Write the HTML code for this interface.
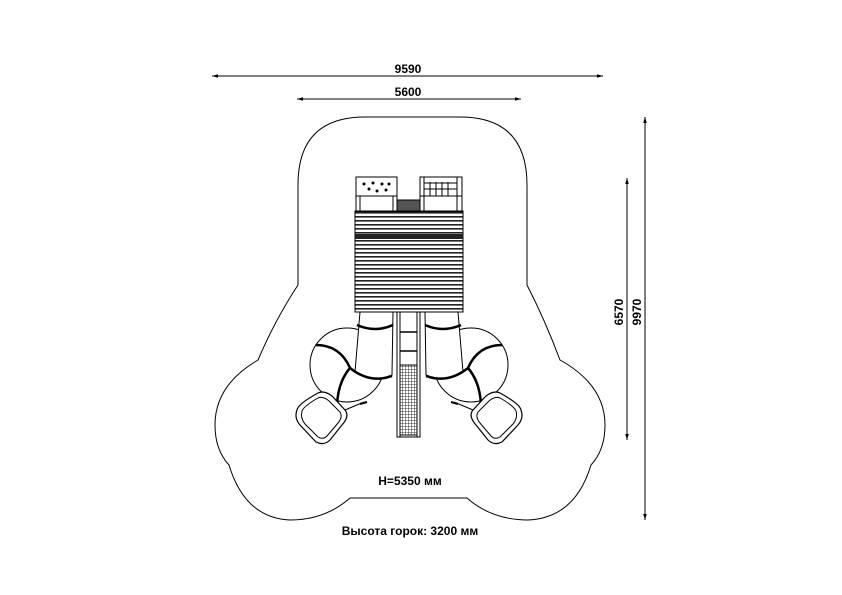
<!DOCTYPE html>
<html><head><meta charset="utf-8"><style>
html,body{margin:0;padding:0;background:#fff;width:842px;height:595px;overflow:hidden}
svg{display:block}
text{font-family:"Liberation Sans",sans-serif;font-size:12px;font-weight:bold;fill:#000}
</style></head><body>
<svg width="842" height="595" viewBox="0 0 842 595" xmlns="http://www.w3.org/2000/svg">
<defs>
<marker id="a" viewBox="0 0 10 10" refX="10" refY="5" markerWidth="8" markerHeight="6" orient="auto-start-reverse"><path d="M0,2 L10,5 L0,8 z" fill="#000"/></marker>
<pattern id="stripes" width="4" height="4" patternUnits="userSpaceOnUse"><rect width="4" height="1.6" fill="#222"/></pattern>
<pattern id="grid" width="3" height="3" patternUnits="userSpaceOnUse"><rect width="3" height="3" fill="#fff"/><path d="M0,0H3M0,0V3" stroke="#000" stroke-width="0.8"/></pattern>
<g id="slide" fill="#fff" stroke="#000" stroke-width="1">
 <circle cx="347" cy="365" r="37"/>
 <path d="M360,312 L393,312 L392,375 Q372,383 355,372 Z"/>
 <path d="M357,325 Q375,333 393,325" stroke-width="2.5" fill="none"/>
 <path d="M316,345 Q340,345 350,368" stroke-width="2.5" fill="none"/>
 <path d="M350,368 Q370,384 392,376" stroke-width="2.5" fill="none"/>
 <path d="M350,368 Q338,382 337,405" stroke-width="2.5" fill="none"/>
 <path d="M297,410 Q298,404 318,393 Q324,390 332,396 L345,410 Q350,416 342,425 L330,440 Q324,446 316,442 L300,425 Q294,418 297,410 Z" stroke-width="1.2"/>
 <path d="M302,411 Q304,406 318,398 Q323,396 329,401 L340,412 Q343,417 338,423 L327,436 Q323,440 318,437 L305,424 Q300,418 302,411 Z" stroke-width="1"/>
 <path d="M345,410 L364,402" fill="none"/>
 <path d="M360,404 L367,402" stroke-width="2"/>
</g>
</defs>
<line x1="212" y1="76" x2="603" y2="76" stroke="#000" stroke-width="1" marker-start="url(#a)" marker-end="url(#a)"/>
<text x="408" y="73" text-anchor="middle">9590</text>
<line x1="297" y1="99" x2="521" y2="99" stroke="#000" stroke-width="1" marker-start="url(#a)" marker-end="url(#a)"/>
<text x="408" y="96" text-anchor="middle">5600</text>
<line x1="645" y1="117" x2="645" y2="520" stroke="#000" stroke-width="1" marker-start="url(#a)" marker-end="url(#a)"/>
<text transform="translate(641,312) rotate(-90)" text-anchor="middle">9970</text>
<line x1="627" y1="178" x2="627" y2="440" stroke="#000" stroke-width="1" marker-start="url(#a)" marker-end="url(#a)"/>
<text transform="translate(623,312) rotate(-90)" text-anchor="middle">6570</text>
<path d="M365,117 L460,117 Q527,117 527,185 L527,285 Q545,320 560,360 Q605,385 605,425 Q605,450 591,465 Q575,518 528,520 Q492,520 467,498 L350,498 Q325,520 290,520 Q245,518 229,465 Q215,450 215,425 Q215,385 258,360 Q275,320 298,285 L298,185 Q298,117 365,117 Z" fill="none" stroke="#000" stroke-width="1"/>
<g fill="#fff" stroke="#000" stroke-width="1">
 <rect x="356" y="177" width="41" height="35"/>
 <line x1="356" y1="196" x2="397" y2="196"/>
 <rect x="420" y="177" width="42" height="35"/>
 <line x1="420" y1="196" x2="462" y2="196"/>
 <line x1="424" y1="177" x2="424" y2="212"/><line x1="457" y1="177" x2="457" y2="212"/>
 <line x1="430" y1="182" x2="430" y2="196"/><line x1="436" y1="182" x2="436" y2="196"/><line x1="442" y1="182" x2="442" y2="196"/><line x1="448" y1="182" x2="448" y2="196"/>
 <line x1="424" y1="183" x2="457" y2="183"/><line x1="424" y1="189" x2="457" y2="189"/>
 <line x1="360" y1="196" x2="360" y2="212"/><line x1="393" y1="196" x2="393" y2="212"/>
 <rect x="397" y="200" width="23" height="12" fill="#555"/>
</g>
<g fill="#000"><circle cx="364" cy="184" r="1.5"/><circle cx="373" cy="183" r="1.5"/><circle cx="382" cy="184" r="1.5"/><circle cx="389" cy="184" r="1.5"/><circle cx="369" cy="189" r="1.5"/><circle cx="386" cy="190" r="1.5"/><circle cx="377" cy="191" r="1.5"/></g>
<rect x="355" y="211" width="108" height="101" fill="url(#stripes)" stroke="#000"/>
<rect x="355" y="234" width="108" height="5" fill="#222"/>
<rect x="397" y="312" width="23" height="125" fill="#fff" stroke="#000"/>
<line x1="400" y1="312" x2="400" y2="437" stroke="#000"/><line x1="417" y1="312" x2="417" y2="437" stroke="#000"/>
<line x1="400" y1="332" x2="417" y2="332" stroke="#000" stroke-width="1.5"/>
<line x1="400" y1="351" x2="417" y2="351" stroke="#000" stroke-width="1.5"/>
<rect x="400" y="365" width="17" height="70" fill="url(#grid)" stroke="#000"/>
<use href="#slide"/>
<use href="#slide" transform="translate(818,0) scale(-1,1)"/>
<text x="410" y="485" text-anchor="middle">H=5350 мм</text>
<text x="410" y="535" text-anchor="middle">Высота горок: 3200 мм</text>
</svg>
</body></html>
